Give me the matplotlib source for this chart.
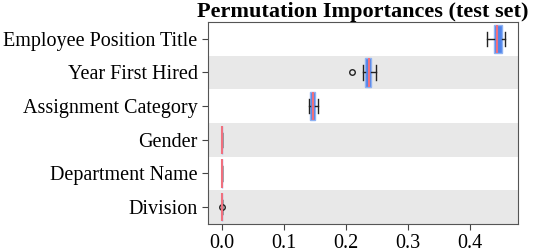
import matplotlib
matplotlib.use("Agg")
import matplotlib.pyplot as plt

features = ["Employee Position Title", "Year First Hired", "Assignment Category",
            "Gender", "Department Name", "Division"]
whislo = [0.427, 0.228, 0.140, 0.0, 0.0, 0.0]
q1 = [0.439, 0.231, 0.142, 0.0, 0.0, 0.0]
med = [0.444, 0.237, 0.146, 0.0, 0.0, 0.0]
q3 = [0.452, 0.241, 0.150, 0.0, 0.0, 0.0]
whishi = [0.456, 0.249, 0.155, 0.0, 0.0, 0.0]
fliers = [[], [0.209], [], [], [], [0.0005]]
xticks = [0.0, 0.1, 0.2, 0.3, 0.4]

plt.rcParams['font.family'] = ['Liberation Serif', 'DejaVu Serif']

fig = plt.figure(figsize=(5.38, 2.52), dpi=100)
ax = fig.add_axes([208/538, 1-224/252, (518-208)/538, (224-22)/252])

stats = []
for i, name in enumerate(features):
    stats.append(dict(label=name, whislo=whislo[i], q1=q1[i], med=med[i],
                      q3=q3[i], whishi=whishi[i], fliers=fliers[i]))

pos = list(range(len(features)))
for i in pos:
    if i % 2 == 1:
        ax.axhspan(i - 0.5, i + 0.5, color='#e8e8e8', zorder=0, lw=0)

ax.bxp(stats, positions=pos, vert=False, widths=0.85, patch_artist=True,
       boxprops=dict(facecolor='#4f84ea', edgecolor='#8fb2f2', linewidth=1.0),
       medianprops=dict(color='#f0707e', linewidth=1.5),
       whiskerprops=dict(color='#222222', linewidth=1.0),
       capprops=dict(color='#222222', linewidth=1.0),
       flierprops=dict(marker='o', markerfacecolor='none', markeredgecolor='#222222',
                       markersize=4, markeredgewidth=1.0),
       zorder=2)

ax.set_ylim(len(features) - 0.5, -0.5)
ax.set_xlim(-0.0226, 0.4774)
ax.set_xticks(xticks)
ax.set_xticklabels([f"{t:.1f}" for t in xticks])
ax.set_yticks(pos)
ax.set_yticklabels(features)
ax.tick_params(labelsize=14.5, length=4, color='#444444')
for s in ax.spines.values():
    s.set_color('#555555')
ax.set_title("Permutation Importances (test set)", fontsize=16, fontweight='bold', pad=3)

fig.savefig("out.png", dpi=100)
